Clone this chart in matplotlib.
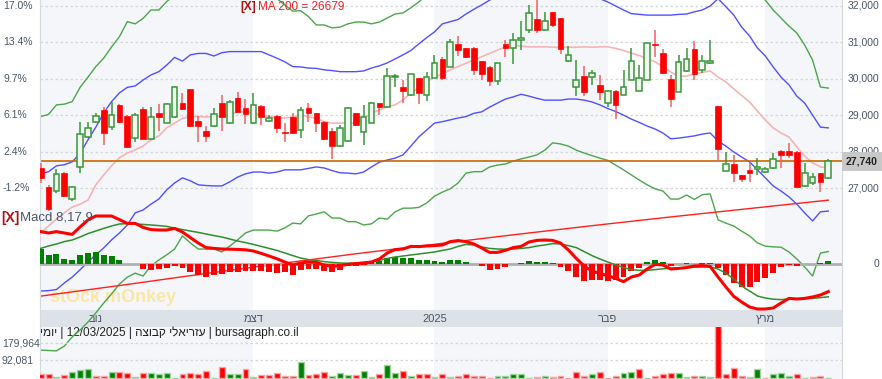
import numpy as np
import matplotlib.pyplot as plt
from matplotlib.transforms import blended_transform_factory as blend
from matplotlib.patches import Rectangle

plt.rcParams['font.family'] = ['Liberation Sans', 'DejaVu Sans']

# ---- data ----
opens = [27550, 27050, 26930, 27430, 26700, 27600, 28420, 28830, 29150, 28680,
         29290, 28990, 28390, 29180, 28350, 29060, 28800, 28950, 29330, 29720,
         28850, 28580, 28710, 29330, 28780, 29470, 29200, 28780, 29260, 28860,
         28990, 28560, 28970, 28600, 29200, 29060, 28830, 28580, 28150, 28300,
         29060, 28540, 28800, 29330, 29220, 30050, 29770, 29560, 30020, 29560,
         30040, 30540, 30340, 30960, 30840, 30860, 30490, 30340, 29950, 30960,
         30840, 31070, 31340, 31630, 31340, 31830, 31660, 30500, 29790, 30080,
         30060, 29840, 29330, 29680, 29560, 29970, 29680, 29970, 30960, 30700,
         30000, 29650, 30230, 30820, 30250, 30430, 29260, 27490, 27660, 27370,
         27510, 27530, 27460, 27550, 28040, 28040, 28010, 27070, 27160, 27420,
         27280]
closes = [27300, 26430, 27400, 26790, 27050, 28480, 28650, 28990, 28530, 29000,
          28830, 28130, 29000, 28360, 28950, 28970, 29310, 29790, 29170, 28710,
          28710, 28450, 29040, 28950, 29380, 29100, 29040, 29290, 28950, 28920,
          28670, 28510, 28510, 29150, 29080, 28800, 28350, 28150, 28650, 29210,
          28740, 28970, 29350, 29240, 30080, 30080, 29680, 30140, 29610, 30060,
          30450, 30020, 31020, 30790, 30590, 30250, 30150, 29950, 30430, 30840,
          31070, 31130, 31820, 31340, 31600, 31480, 30810, 30660, 29970, 29650,
          30170, 29650, 29680, 29290, 29790, 30500, 30020, 30980, 30920, 30170,
          29450, 30470, 30550, 30150, 30490, 30500, 28070, 27660, 27420, 27250,
          27420, 27580, 27520, 27800, 27920, 27920, 27050, 27430, 27320, 27190,
          27740]
highs = [27710, 27100, 27520, 27460, 27080, 28830, 28830, 29060, 29240, 29380,
         29310, 29000, 29060, 29240, 29240, 29310, 29330, 29810, 29620, 29730,
         28990, 28710, 29200, 29560, 29420, 29650, 29440, 29610, 29280, 29010,
         29010, 28800, 29060, 29220, 29330, 29070, 28840, 28650, 28740, 29220,
         29080, 29290, 29380, 29350, 30290, 30140, 29970, 30150, 30030, 30200,
         30660, 30610, 31090, 31180, 30850, 30870, 30500, 30350, 30450, 31070,
         31250, 31600, 32030, 32160, 31830, 31840, 31670, 30890, 30520, 30360,
         30250, 30110, 29700, 29690, 30250, 30840, 30380, 30990, 31340, 30810,
         30110, 30660, 30840, 31050, 30660, 31070, 29270, 28010, 27920, 27380,
         27690, 27830, 27600, 27960, 28050, 28240, 28020, 27690, 27430, 27430,
         27800]
lows = [27160, 26390, 26870, 26760, 26670, 27420, 28370, 28780, 28190, 28600,
        28800, 28120, 28280, 28350, 28330, 28580, 28780, 28930, 29150, 28690,
        28260, 28280, 28690, 28580, 28770, 29090, 28770, 28770, 28740, 28830,
        28530, 28280, 28490, 28390, 28830, 28560, 28330, 27800, 28140, 28280,
        28710, 28190, 28780, 29010, 29210, 29790, 29350, 29520, 29310, 29400,
        30020, 29970, 30320, 30630, 30580, 30110, 29970, 29810, 29840, 30610,
        30410, 30790, 31250, 31270, 31310, 31430, 30680, 30470, 29530, 29530,
        29840, 29420, 29220, 28890, 29550, 29960, 29670, 29960, 30610, 30140,
        29220, 29640, 30200, 29970, 30170, 30420, 27730, 27480, 27190, 27190,
        27190, 27370, 27420, 27530, 27550, 27830, 27040, 27050, 27100, 26890,
        27250]

# bollinger bands and MA20
bb_up2 = [28970, 29030, 29290, 29310, 29380, 29770, 30050, 30340, 30570, 30880,
          31160, 31570, 31510, 31660, 31890, 31890, 32120, 32300, 32400, 32500,
          32550, 32600, 32600, 32600, 32550, 32500, 32450, 32400, 32350, 32300,
          32200, 32030, 31860, 31870, 31710, 31480, 31480, 31400, 31420, 31510,
          31560, 31560, 31510, 31560, 31670, 31780, 31810, 31950, 32110, 32300,
          32450, 32600, 32750, 32850, 32950, 33000, 33050, 33050, 33050, 33100,
          33150, 33200, 33300, 33400, 33450, 33500, 33500, 33450, 33400, 33350,
          33300, 33250, 33200, 33150, 33100, 33050, 33000, 33000, 33000, 33000,
          33000, 33000, 33000, 33000, 33000, 32950, 32900, 32850, 32750, 32600,
          32450, 32300, 32160, 31890, 31670, 31450, 31260, 30930, 30520, 29780,
          29750]
bb_up1 = [27400, 27460, 27620, 27650, 27730, 27960, 28330, 28680, 29070, 29380,
          29620, 29770, 29810, 29970, 30110, 30200, 30380, 30590, 30490, 30660,
          30700, 30700, 30630, 30720, 30750, 30750, 30750, 30750, 30750, 30660,
          30570, 30470, 30340, 30330, 30300, 30290, 30250, 30230, 30200, 30200,
          30200, 30220, 30300, 30360, 30440, 30550, 30660, 30780, 30960, 31130,
          31290, 31510, 31570, 31630, 31780, 31910, 32030, 32160, 32300, 32400,
          32450, 32500, 32600, 32650, 32650, 32600, 32550, 32500, 32450, 32400,
          32300, 32200, 32110, 32000, 31890, 31790, 31770, 31750, 31750, 31750,
          31750, 31770, 31780, 31840, 31890, 32000, 32200, 31980, 31750, 31420,
          31180, 30850, 30630, 30330, 30050, 29840, 29530, 29340, 29010, 28680,
          28660]
ma20 = [25780, 25970, 26160, 26330, 26490, 26570, 26680, 27100, 27370, 27620,
        27840, 27970, 28060, 28160, 28330, 28440, 28660, 28790, 28920, 28970,
        28970, 28960, 28960, 28990, 29030, 29100, 29100, 29080, 29010, 28970,
        28940, 28930, 28960, 29010, 28970, 28920, 28830, 28790, 28790, 28800,
        28800, 28920, 29060, 29150, 29240, 29290, 29420, 29610, 29770, 29930,
        30050, 30140, 30250, 30340, 30430, 30520, 30610, 30700, 30790, 30880,
        30930, 30900, 30880, 30880, 30880, 30870, 30870, 30870, 30870, 30880,
        30870, 30880, 30880, 30840, 30780, 30710, 30640, 30560, 30470, 30340,
        30190, 30070, 30080, 30140, 30180, 30220, 30050, 29920, 29730, 29550,
        29370, 29120, 28880, 28660, 28520, 28410, 28140, 27890, 27700, 27590,
        27560]
bb_lo1 = [24190, 24200, 24230, 24410, 24570, 24770, 24990, 25180, 25370, 25590,
          25780, 26000, 26330, 26410, 26570, 26710, 26960, 27150, 27290, 27210,
          27100, 27080, 27070, 27070, 27180, 27310, 27400, 27450, 27450, 27420,
          27450, 27510, 27510, 27510, 27550, 27590, 27560, 27490, 27430, 27420,
          27400, 27450, 27590, 27720, 27780, 27830, 27920, 28160, 28410, 28600,
          28790, 28830, 28880, 28930, 28970, 29060, 29100, 29230, 29340, 29450,
          29510, 29580, 29530, 29470, 29420, 29420, 29420, 29450, 29450, 29420,
          29370, 29290, 29190, 29110, 29010, 28900, 28810, 28710, 28630, 28520,
          28360, 28380, 28410, 28440, 28490, 28520, 28300, 28160, 28000, 27860,
          27730, 27510, 27290, 27070, 26930, 26770, 26570, 26330, 26110, 26360,
          26380]
bb_lo2 = [22570, 22560, 22550, 22680, 22930, 23120, 23340, 23590, 23860, 24110,
          24380, 24570, 24680, 24600, 24880, 25040, 25180, 25340, 25700, 25510,
          25340, 25340, 25340, 25260, 25420, 25590, 25780, 25860, 25860, 25860,
          25830, 25920, 26050, 26030, 26250, 26300, 26360, 26190, 26190, 26090,
          26090, 26000, 26030, 26190, 26160, 26360, 26460, 26460, 26480, 26600,
          26790, 26900, 26990, 27150, 27420, 27460, 27460, 27590, 27640, 27670,
          27750, 27810, 27860, 27920, 28050, 28250, 28220, 28160, 28050, 27970,
          27900, 27830, 27770, 27640, 27510, 27370, 27230, 27100, 26990, 26930,
          26710, 26710, 26820, 26700, 26830, 26850, 26140, 26050, 25970, 25830,
          25700, 25510, 25420, 25400, 25390, 25260, 25070, 24850, 24600, 25230,
          25270]
ma200_idx = [0, 10, 20, 30, 40, 50, 60, 70, 80, 90, 100]
ma200 = [24050, 24340, 24640, 24930, 25210, 25470, 25730, 25980, 26220, 26450, 26680]

# MACD 8,17,9
macd = [162, 155, 162, 155, 148, 185, 220, 240, 240, 240,
        222, 203, 203, 183, 172, 170, 170, 178, 160, 132,
        105, 82, 78, 75, 74, 73, 71, 65, 53, 40,
        26, 10, -5, 5, 10, 8, -5, -12, -8, -2,
        2, 5, 10, 25, 55, 72, 75, 88, 87, 90,
        92, 95, 112, 117, 112, 100, 80, 58, 58, 68,
        82, 88, 110, 118, 120, 118, 105, 70, 28, -10,
        -35, -48, -58, -72, -88, -65, -55, -25, -2, -5,
        -25, -22, -18, -10, -8, -12, -65, -115, -162, -190,
        -215, -225, -225, -220, -195, -172, -175, -172, -165, -155,
        -138]
signal = [78, 90, 100, 112, 120, 135, 152, 165, 178, 190,
          200, 202, 200, 198, 195, 192, 188, 180, 172, 165,
          158, 150, 142, 135, 125, 115, 107, 98, 88, 78,
          68, 55, 42, 30, 22, 18, 12, 8, 5, 4,
          5, 8, 12, 18, 28, 35, 40, 45, 50, 55,
          60, 68, 75, 88, 98, 95, 85, 78, 75, 74,
          75, 78, 82, 90, 95, 102, 100, 92, 82, 62,
          42, 25, 10, -5, -18, -28, -32, -32, -28, -24,
          -22, -20, -18, -16, -15, -14, -25, -46, -75, -110,
          -135, -160, -170, -176, -178, -175, -174, -173, -172, -168,
          -164]
hist = [75, 45, 50, 25, 18, 45, 55, 62, 45, 38,
        20, 2, 2, -25, -28, -25, -20, -12, -20, -42,
        -55, -65, -55, -50, -42, -38, -35, -35, -35, -42,
        -45, -42, -55, -32, -25, -25, -35, -42, -32, -12,
        -8, -5, 12, 16, 28, 36, 30, 30, 18, 18,
        16, 10, 22, 22, 12, 2, -12, -30, -25, -14,
        1, 4, 16, 12, 12, 6, -15, -36, -66, -85,
        -80, -80, -84, -80, -66, -34, -22, 12, 20, 8,
        -10, 2, 4, 2, 4, 4, -20, -54, -96, -116,
        -116, -88, -72, -44, -14, -5, -8, -2, -1, 4,
        15]

volume = [19100, 19100, 6700, 14000, 32600, 41400, 46500, 10300, 10300, 32600,
          32600, 27400, 6700, 27400, 27400, 20700, 24300, 1600, 19100, 24300,
          19100, 37700, 1600, 58400, 19100, 19100, 46500, 6700, 14000, 14000,
          27400, 11900, 11900, 84300, 14000, 19100, 32600, 10300, 24300, 14000,
          14000, 36200, 6700, 19100, 65000, 24300, 37700, 10300, 19100, 19100,
          3000, 19100, 6700, 11900, 19100, 11900, 11900, 1600, 11900, 11900,
          19100, 19100, 1600, 6700, 11900, 6700, 11900, 1600, 32600, 11900,
          19100, 32600, 1600, 11900, 27400, 32600, 46500, 1600, 11900, 19100,
          27400, 24300, 6700, 11900, 11900, 6700, 300000, 19100, 53300, 11900,
          6700, 45000, 1600, 19100, 27400, 11900, 19100, 1600, 6700, 11900,
          1600]
vol_dir = ("RRGRGGGRRG" "RRGRGGGGRR" "RRGRGGRGRR" "RRRGRRRGGG" "RGGRGGRGRR"
           "GRGRRRRRGG" "GGGRGRRRRR" "GRRRGGRGRR" "RGGRGGRRRR" "GGRGGGRGRR" "G")

price_ticks = [27000, 28000, 29000, 30000, 31000, 32000]
pct_labels = ['-1.2%', '2.4%', '6.1%', '9.7%', '13.4%', '17.0%']
vol_ticks = [92081, 179964]
month_idx = [7, 27, 50, 72, 92]
month_names = ['נוב', 'דצמ', '2025', 'פבר', 'מרץ']
shade_spans = [(-0.15, 27), (50, 72), (92, 101.7)]
info_parts = ['יומי', '12/03/2025', 'עזריאלי קבוצה', 'bursagraph.co.il']


def heb(s):
    # matplotlib has no bidi: put Hebrew runs in visual order
    if any('\u0590' <= ch <= '\u05ff' for ch in s):
        return s[::-1]
    return s


# ---- layout (pixels of the 882x379 picture) ----
W, H = 882, 379
L, R = 39.5, 841.7
def fx(px): return px / W
def fy(py): return 1 - py / H

fig = plt.figure(figsize=(8.82, 3.79), dpi=100)
fig.patch.set_facecolor('white')
x = np.arange(len(closes))
TXT = '#4a5568'
RED, GREEN = '#ff0000', '#008000'

# price panel (spans the whole height, like the original canvas)
ax = fig.add_axes([fx(L), 0, fx(R) - fx(L), 1])
ax.set_xlim(-0.15, 101.7)
ax.set_ylim(21779, 32164)
ax.set_xticks([]); ax.set_yticks([])
ax.patch.set_facecolor('white')
for s in ['top', 'bottom']:
    ax.spines[s].set_visible(False)
for s in ['left', 'right']:
    ax.spines[s].set_color('#d6dae0'); ax.spines[s].set_linewidth(0.8)

for a, b in shade_spans:
    ax.axvspan(a, b, color='#f4f6f9', lw=0, zorder=0)
# date strip
ax.add_patch(Rectangle((0, fy(327)), 1, 17 / H, transform=ax.transAxes,
                       color='#dde1e8', lw=0, zorder=0.5))
tband = blend(ax.transData, fig.transFigure)
for i, m in zip(month_idx, month_names):
    ax.text(i, fy(318.5), heb(m), transform=tband, ha='center', va='center',
            fontsize=8, color=TXT, zorder=0.6)

for p in price_ticks:
    ax.axhline(p, color='#d3d7dd', lw=0.9, ls=(0, (2, 2)), zorder=1)

# watermark and info line
ax.text(fx(50), fy(298), 'stOck mOnkey', transform=fig.transFigure, fontsize=13,
        fontweight='bold', color='#fbe6a6', va='center', zorder=1.2)
info = ' | '.join(heb(t) for t in info_parts)
ax.text(fx(40), fy(333), info, transform=fig.transFigure, fontsize=8.5,
        color='#222222', va='center', ha='left', zorder=1.2)

# indicator lines
ax.plot(x, bb_up2, color='#4ca64c', lw=1, zorder=2)
ax.plot(x, bb_lo2, color='#4ca64c', lw=1, zorder=2)
ax.plot(x, bb_up1, color='#5050ff', lw=1, zorder=2)
ax.plot(x, bb_lo1, color='#5050ff', lw=1, zorder=2)
ax.plot(x, ma20, color='#f5b5b5', lw=1.2, zorder=2)
ax.plot(ma200_idx, ma200, color='#ff2020', lw=1, zorder=2)
ax.axhline(closes[-1], color='#cc6600', lw=1.2, zorder=2.5)

# candles
for i in x:
    o, c = opens[i], closes[i]
    up = c >= o
    ax.vlines(i, lows[i], highs[i], color='#3a963a' if up else '#f26060',
              lw=1.1, zorder=3)
    h = max(abs(c - o), 25)
    ax.bar(i, h, bottom=min(o, c), width=0.72, zorder=4,
           color='#f1f7f1' if up else RED,
           edgecolor='#3a963a' if up else RED, lw=1.1 if up else 0.5)

# MACD panel overlay
axm = fig.add_axes([fx(L), 0, fx(R) - fx(L), 1])
axm.set_xlim(ax.get_xlim())
axm.set_ylim(-575, 1320)
axm.axis('off')
axm.axhline(0, color='#b0b0b0', lw=2, zorder=1)
axm.bar(x, hist, width=0.75, color=[GREEN if v > 0 else RED for v in hist], zorder=2)
axm.plot(x, signal, color='#2f8f2f', lw=1.1, zorder=3)
axm.plot(x, macd, color=RED, lw=2.2, zorder=4)

# volume panel overlay
axv = fig.add_axes([fx(L), 0, fx(R) - fx(L), (379 - 327) / H])
axv.set_xlim(ax.get_xlim())
axv.set_ylim(-5170, 263670)
axv.axis('off')
for v in vol_ticks:
    axv.axhline(v, color='#d3d7dd', lw=0.9, ls=(0, (2, 2)), zorder=1)
vcol = [GREEN if d == 'G' else RED for d in vol_dir]
vedge = ['#9fd49f' if d == 'G' else '#f7a3a3' for d in vol_dir]
axv.bar(x, volume, width=0.75, color=vcol, edgecolor=vedge, lw=1, zorder=2)

# axis labels
tl = blend(fig.transFigure, ax.transData)
for p, lab in zip(price_ticks, pct_labels):
    ax.text(fx(3), p, lab, transform=tl, ha='left', va='center', fontsize=7.5, color=TXT)
    ax.text(fx(879), p, f'{p:,}', transform=tl, ha='right', va='center', fontsize=7.5, color=TXT)
ax.text(fx(862), closes[-1], f'{closes[-1]:,}', transform=tl, ha='center', va='center',
        fontsize=7.5, fontweight='bold', color='#222222', zorder=6,
        bbox=dict(boxstyle='square,pad=0.4', fc='#c8c8c8', ec='none'))
axm.text(fx(879), 0, '0', transform=blend(fig.transFigure, axm.transData),
         ha='right', va='center', fontsize=7.5, color=TXT)
tv = blend(fig.transFigure, axv.transData)
for v in vol_ticks:
    axv.text(fx(2), v, f'{v:,}', transform=tv, ha='left', va='center', fontsize=7.5, color=TXT)

fig.text(fx(240.5), fy(7), '[X]', color='#b01010', fontsize=8.5, fontweight='bold', va='center')
fig.text(fx(258), fy(7), 'MA 200 = 26679', color='#f02020', fontsize=8.5, va='center')
fig.text(fx(1.5), fy(218), '[X]', color='#b01010', fontsize=10, fontweight='bold', va='center')
fig.text(fx(20.5), fy(218), 'Macd 8,17,9', color=TXT, fontsize=9.5, va='center')

fig.savefig('out.png', dpi=100)
